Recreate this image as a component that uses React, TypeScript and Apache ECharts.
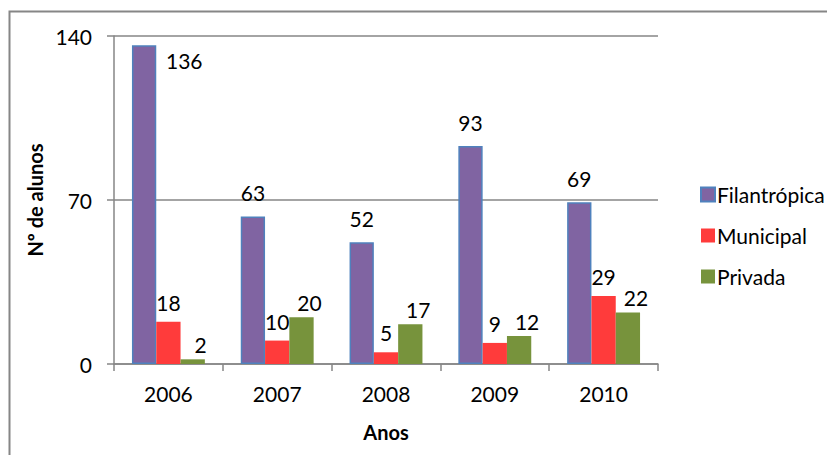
import React, { useEffect, useRef } from "react";
import * as echarts from "echarts";

const years = ["2006", "2007", "2008", "2009", "2010"];
const filantropica = [136, 63, 52, 93, 69];
const municipal = [18, 10, 5, 9, 29];
const privada = [2, 20, 17, 12, 22];
const seriesNames = ["Filantrópica", "Municipal", "Privada"];
const yTicks = { min: 0, max: 140, interval: 70 };

const FONT = "Lato";

export default function App() {
  const ref = useRef<HTMLDivElement>(null);
  useEffect(() => {
    if (!ref.current) return;
    const chart = echarts.init(ref.current, null, { renderer: "svg" });
    const labelBase = { show: true, position: "top", color: "#000", fontFamily: FONT, fontSize: 21 };
    chart.setOption({
      animation: false,
      backgroundColor: "#fff",
      textStyle: { fontFamily: FONT },
      graphic: [
        {
          type: "rect",
          shape: { x: 9.5, y: 11.5, width: 900, height: 600 },
          style: { fill: "none", stroke: "#868686", lineWidth: 2 },
          silent: true,
          z: 0,
        },
      ],
      grid: { left: 114, right: 169, top: 36, bottom: 91, containLabel: false },
      legend: {
        orient: "vertical",
        left: 695,
        top: 179,
        itemWidth: 14,
        itemHeight: 14,
        itemGap: 20,
        icon: "rect",
        textStyle: { fontFamily: FONT, fontSize: 21, color: "#000", padding: [0, 0, 0, -3] },
        data: seriesNames,
      },
      xAxis: {
        type: "category",
        data: years,
        name: "Anos",
        nameLocation: "middle",
        nameGap: 58,
        nameTextStyle: { fontFamily: FONT, fontSize: 20, fontWeight: "bold", color: "#000" },
        axisLine: { lineStyle: { color: "#868686", width: 1.5 } },
        axisTick: { show: true, length: 7, lineStyle: { color: "#868686", width: 1.5 } },
        axisLabel: { fontFamily: FONT, fontSize: 21, color: "#000", margin: 19 },
      },
      yAxis: {
        type: "value",
        min: yTicks.min,
        max: yTicks.max,
        interval: yTicks.interval,
        name: "Nº de alunos",
        nameLocation: "middle",
        nameGap: 57,
        nameRotate: 90,
        nameTextStyle: { fontFamily: FONT, fontSize: 20, fontWeight: "bold", color: "#000" },
        axisLine: { show: true, lineStyle: { color: "#868686", width: 1.5 } },
        axisTick: { show: true, length: 7, lineStyle: { color: "#868686", width: 1.5 } },
        axisLabel: { fontFamily: FONT, fontSize: 21, color: "#000", margin: 22 },
        splitLine: { lineStyle: { color: "#868686", width: 1.5 } },
      },
      series: [
        {
          name: seriesNames[0],
          type: "bar",
          barGap: "0%",
          barCategoryGap: "33%",
          itemStyle: { color: "#8064A2", borderColor: "#4F81BD", borderWidth: 1.5 },
          label: { ...labelBase, distance: 13 },
          data: filantropica.map((v, i) =>
            i === 0 ? { value: v, label: { position: [34, 5] } } : v
          ),
        },
        {
          name: seriesNames[1],
          type: "bar",
          itemStyle: { color: "#FF3B3B" },
          label: { ...labelBase, distance: 9 },
          data: municipal,
        },
        {
          name: seriesNames[2],
          type: "bar",
          itemStyle: { color: "#77933C" },
          label: { ...labelBase, distance: 4, offset: [8, 0] },
          data: privada,
        },
      ],
    });
    return () => chart.dispose();
  }, []);
  return (
    <div
      ref={ref}
      style={{ position: "fixed", left: 0, top: 0, width: 827, height: 455 }}
    />
  );
}
